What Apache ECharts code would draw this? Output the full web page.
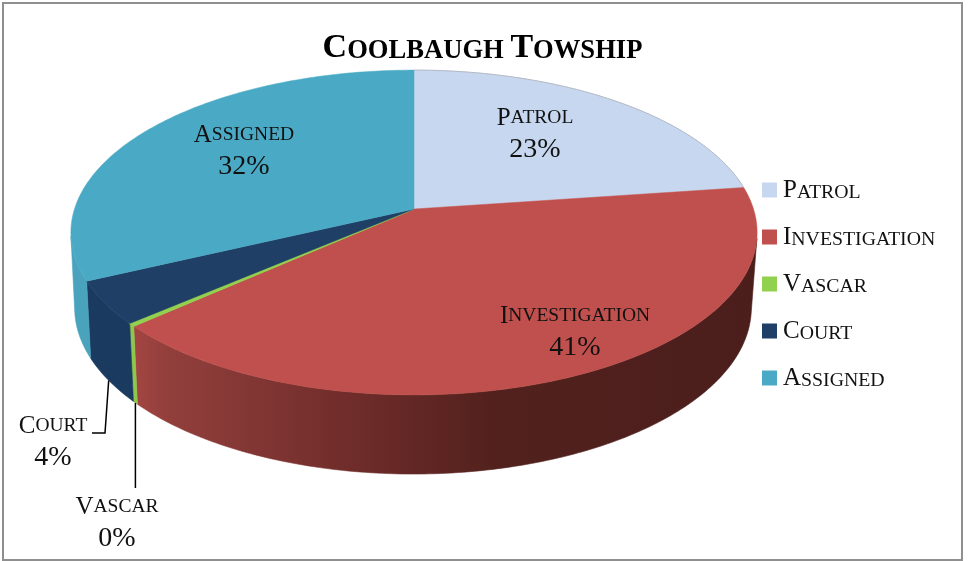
<!DOCTYPE html>
<html>
<head>
<meta charset="utf-8">
<style>html,body{margin:0;padding:0;background:#fff}#c{width:974px;height:561px}</style>
<script src="https://cdn.jsdelivr.net/npm/echarts@6/dist/echarts.min.js"></script>
</head>
<body>
<div id="c"></div>
<script>
const chartTitle = 'Coolbaugh Towship';
const categories = ['Patrol', 'Investigation', 'Vascar', 'Court', 'Assigned'];
const shares = [22.8, 40.6, 0.3, 4.3, 32];
const topColors = ['#c6d7ef', '#c0504d', '#92d050', '#1f3f66', '#4aaac5'];
const wallColors = ['#c6d7ef', null, '#8cc84c', '#1b3a5f', '#4aa3bd'];

const FONT = '"Liberation Serif", serif';
const TEXT = '#111';
// Perspective model of the pie's disc: top and bottom rims
const TOP = {cx: 414, cy: 209, rx: 339.5, ry: 159, k: 0.1447};
const BOT = {cx: 413, cy: 284.5, rx: 335, ry: 163, k: 0.14};
const labelAnchors = [[535, 134], [575, 332], [117, 523], [53, 442], [244, 151]];
const leaderBends = [null, null, [], [[105, 433], [92, 433]], null];
const vascarLeaderEndY = 488;

const total = shares.reduce((a, b) => a + b, 0);
const pt = (ring, t) => {
  const u = Math.sin(t), v = -Math.cos(t), w = 1 - ring.k * v;
  return [ring.cx + ring.rx * u / w, ring.cy + ring.ry * v / w];
};
const arc = (ring, a, b) => {
  const n = Math.max(2, Math.ceil(Math.abs(b - a) / 0.015)), out = [];
  for (let i = 0; i <= n; i++) out.push(pt(ring, a + (b - a) * i / n));
  return out;
};
// Angle where the wall's edge runs along the rim: the visible outline of the side
const silhouette = (from, to) => {
  let prev = null;
  for (let t = from; t < to; t += 0.002) {
    const p = pt(TOP, t), q = pt(TOP, t + 0.002), r = pt(BOT, t);
    const c = (q[0] - p[0]) * (r[1] - p[1]) - (q[1] - p[1]) * (r[0] - p[0]);
    if (prev !== null && prev * c < 0) return t;
    prev = c;
  }
  return from;
};
const wallFrom = silhouette(Math.PI * 0.3, Math.PI * 0.8);
const wallTo = silhouette(Math.PI * 1.2, Math.PI * 1.7);
const caps = (s, keyB, keyS) => s.split(' ').map(w =>
  '{' + keyB + '|' + w[0].toUpperCase() + '}{' + keyS + '|' + w.slice(1).toUpperCase() + '}').join('{' + keyS + '| }');

const redWall = () => new echarts.graphic.LinearGradient(130, 0, 760, 0, [
  {offset: 0, color: '#a54643'},
  {offset: 0.06, color: '#923f3c'},
  {offset: 0.32, color: '#732e2c'},
  {offset: 0.58, color: '#52211d'},
  {offset: 1, color: '#4b1e1c'}
], true);

function sliceRenderer(idx) {
  const a = shares.slice(0, idx).reduce((x, y) => x + y, 0) / total * Math.PI * 2;
  const b = a + shares[idx] / total * Math.PI * 2;
  const mid = (a + b) / 2;
  return function () {
    const topArc = arc(TOP, a, b);
    const children = [];
    const wa = Math.max(a, wallFrom), wb = Math.min(b, wallTo);
    if (wa < wb) {
      const wallFill = wallColors[idx] || redWall();
      children.push({type: 'polygon', z2: 1,
        shape: {points: arc(TOP, wa, wb).concat(arc(BOT, wa, wb).reverse())},
        style: {fill: wallFill, stroke: wallFill, lineWidth: 0.6}});
    }
    children.push({type: 'polygon', z2: 2, shape: {points: [pt({...TOP, rx: 0, ry: 0}, 0)].concat(topArc)},
      style: {fill: topColors[idx], stroke: topColors[idx], lineWidth: idx === 2 ? 1.2 : 0.5}});
    if (idx === 0) {
      children.push({type: 'polyline', z2: 3, shape: {points: topArc},
        style: {fill: 'none', stroke: '#b4bac4', lineWidth: 1}});
    }
    const pct = Math.round(shares[idx] / total * 100) + '%';
    const [lx, ly] = labelAnchors[idx];
    const big = 25, small = 19.5;
    children.push({type: 'text', z2: 5, style: {
      x: lx, y: ly, align: 'center', verticalAlign: 'middle',
      text: caps(categories[idx], 'b', 's') + '\n{p|' + pct + '}',
      rich: {
        b: {fontFamily: FONT, fontSize: big, fill: TEXT, height: 32, lineHeight: 32, verticalAlign: 'bottom'},
        s: {fontFamily: FONT, fontSize: small, fill: TEXT, height: 32, lineHeight: 32, verticalAlign: 'bottom'},
        p: {fontFamily: FONT, fontSize: 28, fill: TEXT, height: 32, lineHeight: 32}
      }
    }});
    if (leaderBends[idx]) {
      const start = pt(BOT, mid);
      const rest = leaderBends[idx].length ? leaderBends[idx] : [[start[0], vascarLeaderEndY]];
      children.push({type: 'polyline', z2: 5, shape: {points: [start].concat(rest)},
        style: {fill: 'none', stroke: '#000', lineWidth: 1.5}});
    }
    return {type: 'group', children};
  };
}

const chart = echarts.init(document.getElementById('c'), null, {renderer: 'canvas'});
const legendRich = {
  b: {fontFamily: FONT, fontSize: 25, color: TEXT, lineHeight: 26, verticalAlign: 'bottom'},
  s: {fontFamily: FONT, fontSize: 19.8, color: TEXT, lineHeight: 26, verticalAlign: 'bottom'}
};
chart.setOption({
  animation: false,
  backgroundColor: '#fff',
  title: {
    text: caps(chartTitle, 'b', 's'),
    left: 477.5, top: 20, textAlign: 'center',
    textStyle: {
      rich: {
        b: {fontFamily: FONT, fontSize: 34, fontWeight: 'bold', color: '#000', lineHeight: 40, verticalAlign: 'bottom'},
        s: {fontFamily: FONT, fontSize: 26.6, fontWeight: 'bold', color: '#000', lineHeight: 40, verticalAlign: 'bottom'}
      }
    }
  },
  legend: {
    orient: 'vertical', left: 762, top: 178,
    itemWidth: 15, itemHeight: 15, itemGap: 22, padding: 0,
    icon: 'rect', selectedMode: false,
    data: categories.map((n, i) => ({name: n, itemStyle: {color: topColors[i]}})),
    formatter: n => caps(n, 'b', 's'),
    textStyle: {rich: legendRich, padding: [0, 0, 0, 1]}
  },
  graphic: [{type: 'rect', silent: true, z: -1, shape: {x: 3, y: 3, width: 959, height: 557},
    style: {fill: 'none', stroke: '#8f8f8f', lineWidth: 2}}],
  series: categories.map((n, i) => ({
    type: 'custom', name: n, coordinateSystem: 'none', silent: true,
    itemStyle: {color: topColors[i]},
    data: [[shares[i]]],
    renderItem: sliceRenderer(i)
  }))
});
</script>
</body>
</html>
